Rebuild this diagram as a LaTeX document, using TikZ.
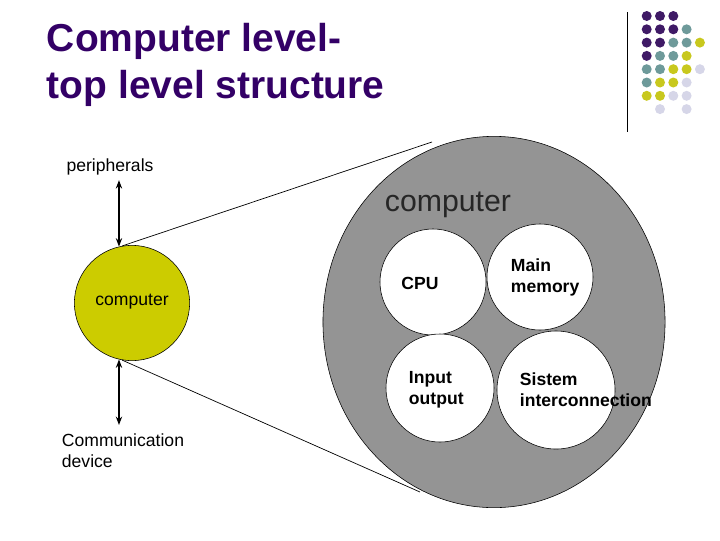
\documentclass[tikz,border=0pt]{standalone}
\usepackage{fontspec}
\setmainfont{Liberation Sans}
\usetikzlibrary{arrows.meta,shapes.geometric}
\definecolor{titlepurple}{HTML}{330066}
\definecolor{dotpurple}{HTML}{3F1A66}
\definecolor{dotteal}{HTML}{6E9A9A}
\definecolor{dotyellow}{HTML}{C8C81E}
\definecolor{dotlav}{HTML}{D6D6E8}
\definecolor{olive}{HTML}{CCCC00}
\tikzset{
  smalltext/.style={font=\fontsize{12.5}{15}\selectfont, align=left},
  unittext/.style={font=\fontsize{12.5}{15}\selectfont\bfseries, align=left},
  unit/.style={circle, draw=black, fill=white, line width=0.4pt},
  dblarrow/.style={{Stealth[length=6pt,width=4.5pt]}-{Stealth[length=6pt,width=4.5pt]}, line width=0.9pt},
}
\begin{document}
\begin{tikzpicture}[x=0.025cm, y=-0.025cm]
			%%%%% START %%%%%
			\useasboundingbox (0,0) rectangle (720,540);
			
			\node[anchor=base west, text=titlepurple, align=left,
			  font=\fontsize{27.7}{33}\selectfont\bfseries] (title) at (42,98)
			  {Computer level-\\top level structure};
			
			% corner dots
			\draw[line width=0.6pt] (627,12) -- (627,132);
			\foreach \c/\r/\col in {0/0/dotpurple,1/0/dotpurple,2/0/dotpurple,
			    0/1/dotpurple,1/1/dotpurple,2/1/dotpurple,3/1/dotteal,
			    0/2/dotpurple,1/2/dotpurple,2/2/dotteal,3/2/dotteal,4/2/dotyellow,
			    0/3/dotpurple,1/3/dotteal,2/3/dotteal,3/3/dotyellow,
			    0/4/dotteal,1/4/dotteal,2/4/dotyellow,3/4/dotyellow,4/4/dotlav,
			    0/5/dotteal,1/5/dotyellow,2/5/dotyellow,3/5/dotlav,
			    0/6/dotyellow,1/6/dotyellow,2/6/dotlav,3/6/dotlav,
			    1/7/dotlav,3/7/dotlav}
			  \fill[\col] ({646.7+13.3*\c},{16+13.3*\r}) circle (5);
			
			% big computer
			\node[ellipse, draw=black, fill=black!42, line width=0.4pt,
			  minimum width=8.55cm, minimum height=9.28cm] (big) at (494,322) {};
			\node[font=\fontsize{21.5}{25}\selectfont, text=black!85] (bigname) at (448,205) {computer};
			\node[unit, minimum size=2.65cm] (cpu) at (433,282) {};
			\node[unit, minimum size=2.65cm] (mem) at (540,277) {};
			\node[unit, minimum size=2.7cm] (io) at (440,388) {};
			\node[unit, minimum size=2.95cm] (bus) at (556,390) {};
			\node[unittext] at (420,283) {CPU};
			\node[unittext, anchor=west] at (506,277) {Main\\memory};
			\node[unittext, anchor=west] at (404,390) {Input\\output};
			\node[unittext, anchor=west] at (515,390) {Sistem\\interconnection};
			
			% small computer
			\node[circle, draw=black, fill=olive, line width=0.4pt,
			  minimum size=2.88cm] (comp) at (132,303) {};
			\node[smalltext] at (132,302) {computer};
			\node[smalltext] (periph) at (110,167) {peripherals};
			\node[smalltext] (comm) at (123,451) {Communication\\device};
			
			\coordinate (topend) at (432,142);
			\coordinate (botend) at (420,492);
			\draw[line width=0.5pt] (comp.100) -- (topend);
			\draw[line width=0.5pt] (comp.260) -- (botend);
			
			\draw[dblarrow] (comp.103 |- periph.south) -- (comp.103);
			\draw[dblarrow] (comp.257) -- (comp.257 |- 0,425);
			%%%%% END %%%%%
		\end{tikzpicture}
\end{document}
